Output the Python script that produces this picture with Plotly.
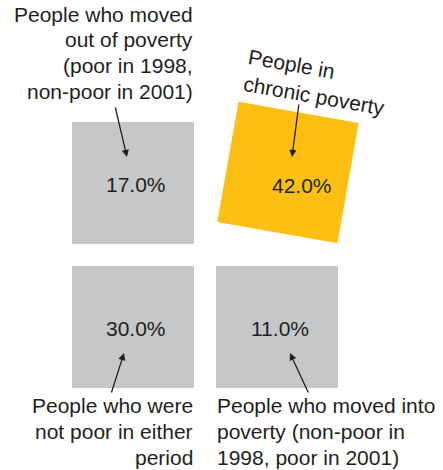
import math
import plotly.graph_objects as go

# ---- data ----
categories = [
    "People who moved<br>out of poverty<br>(poor in 1998,<br>non-poor in 2001)",
    "People in<br>chronic poverty",
    "People who were<br>not poor in either<br>period",
    "People who moved into<br>poverty (non-poor in<br>1998, poor in 2001)",
]
values = [17.0, 42.0, 30.0, 11.0]

# ---- layout / style constants ----
grid_col = [0, 1, 0, 1]
grid_row = [0, 0, 1, 1]
cell_size = 0.847
highlight_idx = 1
highlight_angle = 10.0            # degrees, clockwise
highlight_shift = (0.076, -0.073)  # centre shift of rotated cell
GRAY = "#C6C7C9"
ORANGE = "#FCBF12"
INK = "#231F20"
FONT = "Liberation Sans, Arial, sans-serif"
LABEL_SIZE = 21
LINE_PITCH = 25.7 / 144.0

fig = go.Figure()

def corners(cx, cy, s, ang):
    t = math.radians(ang)
    h = s / 2
    pts = [(-h, -h), (h, -h), (h, h), (-h, h), (-h, -h)]
    xs, ys = [], []
    for px, py in pts:
        xs.append(cx + px * math.cos(t) - py * math.sin(t))
        ys.append(cy + px * math.sin(t) + py * math.cos(t))
    return xs, ys

annotations = []
for i, (cat, val) in enumerate(zip(categories, values)):
    cx, cy = grid_col[i], grid_row[i]
    ang = 0.0
    color = GRAY
    if i == highlight_idx:
        cx += highlight_shift[0]
        cy += highlight_shift[1]
        ang = highlight_angle
        color = ORANGE
    xs, ys = corners(cx, cy, cell_size, ang)
    fig.add_trace(go.Scatter(x=xs, y=ys, mode="lines", fill="toself",
                             fillcolor=color, line=dict(width=0, color=color),
                             hoverinfo="skip", showlegend=False))
    # value label
    vx = grid_col[i] + 0.024
    vy = grid_row[i] + 0.01
    if i == highlight_idx:
        vx = grid_col[i] + 0.174
        vy = grid_row[i] + 0.02
    annotations.append(dict(x=vx, y=vy, xref="x", yref="y", text=f"{val:.1f}%",
                            showarrow=False, font=dict(size=21, color=INK, family=FONT),
                            xanchor="center", yanchor="middle"))

# category labels
half = cell_size / 2
label_specs = [
    dict(x=grid_col[0] + half + 0.005, y=-0.906, xanchor="right", align="right", textangle=0),
    dict(x=1.271, y=-0.701, xanchor="center", align="left", textangle=highlight_angle),
    dict(x=grid_col[2] + half + 0.005, y=1.726, xanchor="right", align="right", textangle=0),
    dict(x=grid_col[3] - half - 0.005, y=1.726, xanchor="left", align="left", textangle=0),
]
for cat, spec in zip(categories, label_specs):
    if spec["textangle"]:
        annotations.append(dict(xref="x", yref="y", text=cat, showarrow=False,
                                yanchor="middle", font=dict(size=LABEL_SIZE, color=INK, family=FONT),
                                **spec))
        continue
    lines = cat.split("<br>")
    n = len(lines)
    for k, line in enumerate(lines):
        ly = spec["y"] + (k - (n - 1) / 2) * LINE_PITCH
        annotations.append(dict(xref="x", yref="y", x=spec["x"], y=ly, text=line,
                                showarrow=False, xanchor=spec["xanchor"], yanchor="middle",
                                font=dict(size=LABEL_SIZE, color=INK, family=FONT)))

# arrows (head x,y ; tail ax,ay)
arrow_specs = [
    (-0.042, -0.181, -0.125, -0.535),
    (1.104, -0.181, 1.153, -0.556),
    (-0.0625, 1.181, -0.153, 1.465),
    (1.090, 1.181, 1.222, 1.465),
]
for hx, hy, tx, ty in arrow_specs:
    annotations.append(dict(x=hx, y=hy, ax=tx, ay=ty, xref="x", yref="y",
                            axref="x", ayref="y", text="", showarrow=True,
                            arrowhead=2, arrowsize=1.1, arrowwidth=1.3,
                            arrowcolor=INK, standoff=0, startstandoff=0))

fig.update_layout(
    width=443, height=470,
    margin=dict(l=0, r=0, t=0, b=0),
    paper_bgcolor="white", plot_bgcolor="white",
    xaxis=dict(range=[-0.9236, 2.1528], visible=False, fixedrange=True),
    yaxis=dict(range=[1.993, -1.271], visible=False, fixedrange=True),
    annotations=annotations,
    showlegend=False,
)
fig.write_html("out.html")
